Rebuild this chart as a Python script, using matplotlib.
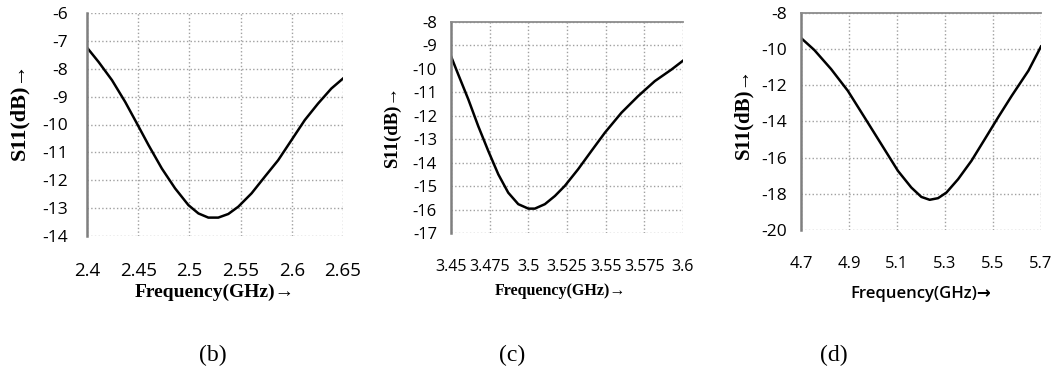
import matplotlib
matplotlib.use('Agg')
import matplotlib.pyplot as plt

plt.rcParams['axes.unicode_minus'] = False

# panel (b)
freq_b = [2.400, 2.4114, 2.4244, 2.4373, 2.4487, 2.4601, 2.4731, 2.4860, 2.4990, 2.5088,
          2.5185, 2.5282, 2.5380, 2.5477, 2.5607, 2.5737, 2.5867, 2.5997, 2.6127, 2.6256,
          2.6386, 2.650]
s11_b = [-7.24, -7.76, -8.41, -9.19, -9.96, -10.74, -11.58, -12.29, -12.89, -13.19,
         -13.34, -13.34, -13.21, -12.95, -12.47, -11.87, -11.28, -10.56, -9.84, -9.25,
         -8.71, -8.35]
xt_b = [2.4, 2.45, 2.5, 2.55, 2.6, 2.65]
xt_b_lab = ['2.4', '2.45', '2.5', '2.55', '2.6', '2.65']
yt_b = [-14, -13, -12, -11, -10, -9, -8, -7, -6]

# panel (c)
freq_c = [3.450, 3.4547, 3.4612, 3.4676, 3.4741, 3.4806, 3.4870, 3.4935, 3.500, 3.5042,
          3.5107, 3.5172, 3.5236, 3.5322, 3.5408, 3.5495, 3.5602, 3.5710, 3.5818, 3.5925,
          3.600]
s11_c = [-9.46, -10.24, -11.30, -12.44, -13.50, -14.50, -15.28, -15.77, -15.96, -15.96,
         -15.77, -15.42, -14.99, -14.28, -13.50, -12.72, -11.87, -11.16, -10.52, -10.03,
         -9.65]
xt_c = [3.45, 3.475, 3.5, 3.525, 3.55, 3.575, 3.6]
xt_c_lab = ['3.45', '3.475', '3.5', '3.525', '3.55', '3.575', '3.6']
yt_c = [-17, -16, -15, -14, -13, -12, -11, -10, -9, -8]

# panel (d)
freq_d = [4.700, 4.7557, 4.8253, 4.895, 4.9646, 5.0343, 5.1039, 5.1596, 5.2014, 5.2362,
          5.2710, 5.3059, 5.3546, 5.4104, 5.4661, 5.5214, 5.5780, 5.6476, 5.700]
s11_d = [-9.38, -10.05, -11.10, -12.30, -13.77, -15.25, -16.73, -17.65, -18.17, -18.33,
         -18.24, -17.93, -17.19, -16.17, -14.97, -13.77, -12.58, -11.19, -9.85]
xt_d = [4.7, 4.9, 5.1, 5.3, 5.5, 5.7]
xt_d_lab = ['4.7', '4.9', '5.1', '5.3', '5.5', '5.7']
yt_d = [-20, -18, -16, -14, -12, -10, -8]

W, H = 1059, 373
tick_font = ['Open Sans', 'DejaVu Sans']
serif = ['Liberation Serif', 'DejaVu Serif']

fig = plt.figure(figsize=(W / 100, H / 100), dpi=100)

# axes box in pixels (left, top, right, bottom)
boxes = [(87, 13, 343, 236), (451, 22, 683, 233), (801, 13, 1041, 230)]
data = [(freq_b, s11_b, xt_b, xt_b_lab, yt_b),
        (freq_c, s11_c, xt_c, xt_c_lab, yt_c),
        (freq_d, s11_d, xt_d, xt_d_lab, yt_d)]
xtick_size = [13.5, 11.5, 12]
ytick_size = [12.5, 12, 12.5]
ypad = [13.5, 10, 10]
show_top = [False, True, True]
xlab_pos = [(215, 292), (560, 291), (921, 294)]
xlab_size = [14, 11.5, 12]
ylab_pos = [(19, 111), (392, 127), (743, 113)]
ylab_size = [16, 13.5, 15]
captions = ['(b)', '(c)', '(d)']
cap_x = [213, 512, 834]

for i in range(3):
    l, t, r, b = boxes[i]
    x, y, xt, xl, yt = data[i]
    ax = fig.add_axes([l / W, 1 - b / H, (r - l) / W, (b - t) / H])
    ax.plot(x, y, color='black', linewidth=1.8)
    ax.set_xlim(xt[0], xt[-1])
    ax.set_ylim(yt[0], yt[-1])
    ax.set_xticks(xt)
    ax.set_xticklabels(xl)
    ax.set_yticks(yt)
    ax.grid(True, color='#a0a0a0', linestyle=':', linewidth=1.0)
    ax.tick_params(length=0, colors='black')
    ax.tick_params(axis='x', pad=19, labelsize=xtick_size[i])
    ax.tick_params(axis='y', pad=ypad[i], labelsize=ytick_size[i])
    for lab in ax.get_xticklabels() + ax.get_yticklabels():
        lab.set_fontfamily(tick_font)
    ax.spines['left'].set_color('#7f7f7f')
    ax.spines['left'].set_linewidth(1.8)
    ax.spines['right'].set_visible(False)
    ax.spines['bottom'].set_visible(False)
    if show_top[i]:
        ax.spines['top'].set_color('#8c8c8c')
        ax.spines['top'].set_linewidth(1.3)
    else:
        ax.spines['top'].set_visible(False)

    xx, xy = xlab_pos[i]
    if i == 2:
        fig.text(xx / W, 1 - xy / H, 'Frequency(GHz)\u2192', family=tick_font,
                 weight='semibold', size=xlab_size[i], ha='center', va='center')
    else:
        fig.text(xx / W, 1 - xy / H, 'Frequency(GHz)\u2192', family=serif,
                 weight='bold', size=xlab_size[i], ha='center', va='center')
    yx, yy = ylab_pos[i]
    fig.text(yx / W, 1 - yy / H, 'S11(dB)\u2192', family=serif, weight='bold',
             size=ylab_size[i], rotation=90, ha='center', va='center')
    fig.text(cap_x[i] / W, 1 - 355 / H, captions[i], family=serif, size=17,
             ha='center', va='center')

fig.savefig('out.png', dpi=100)
